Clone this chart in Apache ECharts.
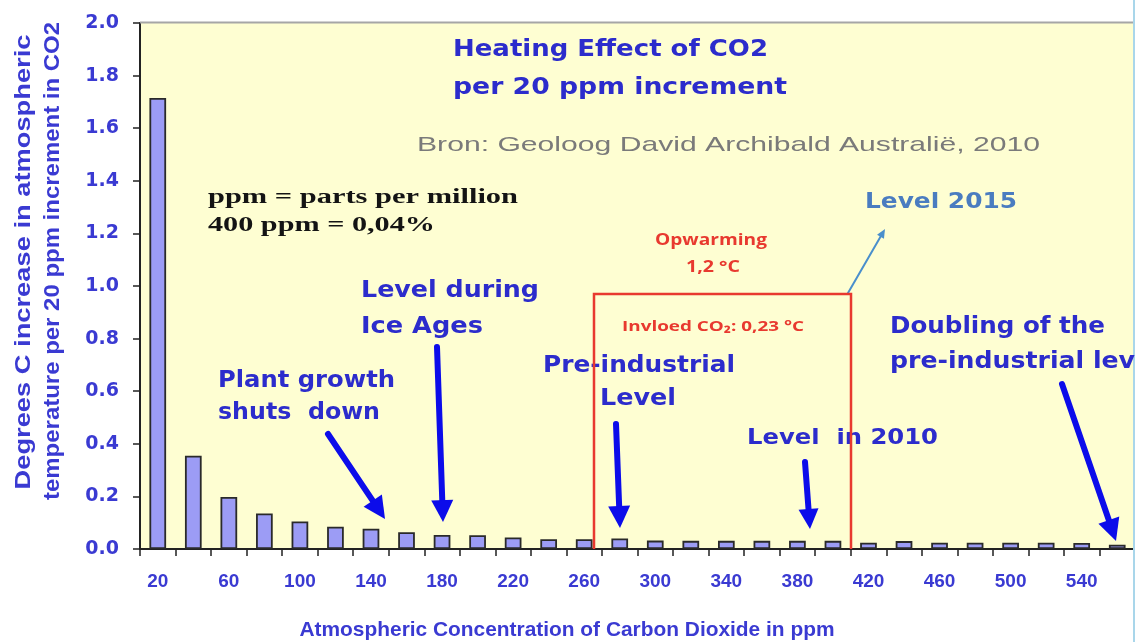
<!DOCTYPE html>
<html>
<head>
<meta charset="utf-8">
<script src="https://cdn.jsdelivr.net/npm/echarts@6/dist/echarts.min.js"></script>
<style>
html,body{margin:0;padding:0;background:#ffffff;}
#c{width:1135px;height:642px;}
</style>
</head>
<body>
<div id="c"></div>
<script>
// ---- data ----
const categories = ['20','40','60','80','100','120','140','160','180','200','220','240','260','280',
  '300','320','340','360','380','400','420','440','460','480','500','520','540','560'];
const heatingEffect = [1.715, 0.355, 0.198, 0.135, 0.105, 0.085, 0.077, 0.064, 0.053, 0.052, 0.044, 0.037, 0.037, 0.040,
  0.032, 0.031, 0.031, 0.031, 0.031, 0.031, 0.024, 0.030, 0.024, 0.024, 0.024, 0.024, 0.023, 0.016];
const yTickLabels = ['0.0','0.2','0.4','0.6','0.8','1.0','1.2','1.4','1.6','1.8','2.0'];

const chartTitle = ['Heating Effect of CO2', 'per 20 ppm increment'];
const sourceText = 'Bron: Geoloog David Archibald Australië, 2010';
const xAxisTitle = 'Atmospheric Concentration of Carbon Dioxide in ppm';
const yAxisTitle = ['Degrees C increase in atmospheric', 'temperature per 20 ppm increment in CO2'];

// ---- styling ----
const BLUE = '#2C2CCC';
const LABEL_BLUE = '#3A3AD2';
const ARROW_BLUE = '#0C0CEA';
const RED = '#E8392F';
const SANS = '"Liberation Sans", Arial, sans-serif';
const WIDE = '"DejaVu Sans", Verdana, sans-serif';
const SERIF = '"Liberation Serif", "Times New Roman", serif';
const CAL = '"Open Sans", "Noto Sans", sans-serif';

const chart = echarts.init(document.getElementById('c'), null, {renderer: 'canvas'});
const mctx = document.createElement('canvas').getContext('2d');

function txt(a) {
  const font = (a.weight || 'bold') + ' ' + a.size + 'px ' + (a.family || WIDE);
  mctx.font = font;
  const sx = a.w ? a.w / mctx.measureText(a.m || a.t).width : 1;
  return {
    type: 'text', x: a.x, y: a.y, rotation: a.rot || 0, scaleX: sx, z: 50,
    style: {
      text: a.t, font: font, fill: a.color || BLUE,
      textAlign: a.align || 'left', align: a.align || 'left',
      textVerticalAlign: 'middle', verticalAlign: 'middle'
    }
  };
}

function arrow(x1, y1, x2, y2, w, hl, hw, color) {
  const dx = x2 - x1, dy = y2 - y1, L = Math.hypot(dx, dy);
  const ux = dx / L, uy = dy / L;
  const bx = x2 - ux * hl, by = y2 - uy * hl;
  const px = -uy, py = ux;
  return [
    {type: 'line', z: 55, shape: {x1: x1, y1: y1, x2: bx + ux * 2, y2: by + uy * 2},
      style: {stroke: color, lineWidth: w, lineCap: 'round'}},
    {type: 'polygon', z: 55, shape: {points: [[x2, y2], [bx + px * hw / 2, by + py * hw / 2], [bx - px * hw / 2, by - py * hw / 2]]},
      style: {fill: color}}
  ];
}

const graphics = [
  // frame details of the plot area
  {type: 'line', z: 40, shape: {x1: 140, y1: 22.5, x2: 1133, y2: 22.5}, style: {stroke: '#A6A6A6', lineWidth: 2}},
  {type: 'rect', z: 40, shape: {x: 1133, y: 0, width: 2, height: 642}, style: {fill: '#A9D6EA'}},

  // titles
  txt({t: chartTitle[0], x: 453, y: 50, w: 315, size: 23}),
  txt({t: chartTitle[1], x: 453, y: 88, w: 334, size: 23}),
  txt({t: sourceText, x: 417, y: 145, w: 623, size: 21, weight: 'normal', family: SANS, color: '#7A7A7A'}),
  txt({t: 'ppm = parts per million', x: 208, y: 198, w: 310, size: 21, family: SERIF, color: '#141414'}),
  txt({t: '400 ppm = 0,04%', x: 208, y: 226, w: 227, size: 21, family: SERIF, color: '#141414'}),
  txt({t: 'Level 2015', x: 865, y: 203, w: 152, size: 21, color: '#4A7CC0'}),
  txt({t: 'Opwarming', x: 711, y: 240, w: 112, size: 16, family: CAL, color: RED, align: 'center'}),
  txt({t: '1,2 °C', x: 713, y: 267, w: 54, size: 16, family: CAL, color: RED, align: 'center'}),
  txt({t: 'Invloed CO₂: 0,23 °C', x: 622, y: 327, w: 182, size: 15, family: CAL, color: RED}),

  // blue annotations
  txt({t: 'Level during', x: 361, y: 291, w: 178, size: 23}),
  txt({t: 'Ice Ages', x: 361, y: 327, w: 122, size: 23}),
  txt({t: 'Plant growth', x: 218, y: 381, w: 177, size: 23}),
  txt({t: 'shuts  down', x: 218, y: 413, w: 162, size: 23}),
  txt({t: 'Pre-industrial', x: 543, y: 366, w: 192, size: 23}),
  txt({t: 'Level', x: 600, y: 399, w: 76, size: 23}),
  txt({t: 'Level  in 2010', x: 747, y: 438, w: 191, size: 22}),
  txt({t: 'Doubling of the', x: 890, y: 327, w: 215, size: 23}),
  txt({t: 'pre-industrial level', m: 'pre-industrial lev', x: 890, y: 362, w: 245, size: 23}),

  // axis titles
  txt({t: xAxisTitle, x: 567, y: 630, w: 535, size: 21, family: SANS, color: LABEL_BLUE, align: 'center'}),
  txt({t: yAxisTitle[0], x: 24, y: 262, w: 455, size: 22, family: SANS, color: LABEL_BLUE, align: 'center', rot: Math.PI / 2}),
  txt({t: yAxisTitle[1], x: 53, y: 261, w: 478, size: 22, family: SANS, color: LABEL_BLUE, align: 'center', rot: Math.PI / 2}),

  // red box
  {type: 'polyline', z: 60, shape: {points: [[594, 549], [594, 294], [851, 294], [851, 549]]},
    style: {stroke: RED, lineWidth: 2.5, fill: null}}
]
  .concat(arrow(848, 293, 885, 229, 2, 9, 8, '#4A8FCC'))
  .concat(arrow(328, 434, 385, 519, 6, 22, 22, ARROW_BLUE))
  .concat(arrow(437, 347, 443, 522, 6, 22, 22, ARROW_BLUE))
  .concat(arrow(616, 424, 620, 528, 6, 22, 22, ARROW_BLUE))
  .concat(arrow(805, 462, 810, 529, 6, 20, 20, ARROW_BLUE))
  .concat(arrow(1062, 384, 1116, 541, 6, 22, 22, ARROW_BLUE));

const option = {
  backgroundColor: '#ffffff',
  animation: false,
  grid: {
    show: true, left: 140, top: 23, right: -10, bottom: 93,
    backgroundColor: '#FEFED2', borderWidth: 0, containLabel: false
  },
  xAxis: {
    type: 'category',
    data: categories,
    boundaryGap: true,
    axisLine: {lineStyle: {color: '#222222', width: 2}},
    axisTick: {show: true, interval: 0, length: 7, lineStyle: {color: '#222222', width: 1.5}},
    axisLabel: {
      interval: 1, margin: 23, color: LABEL_BLUE,
      fontFamily: SANS, fontWeight: 'bold', fontSize: 19
    },
    splitLine: {show: false}
  },
  yAxis: {
    type: 'value', min: 0, max: 2, interval: 0.2,
    axisLine: {show: true, lineStyle: {color: '#222222', width: 2}},
    axisTick: {show: true, length: 7, lineStyle: {color: '#222222', width: 1.5}},
    axisLabel: {
      margin: 21, color: LABEL_BLUE, fontFamily: WIDE,
      fontWeight: 'bold', fontSize: 19,
      formatter: function (v) { return yTickLabels[Math.round(v / 0.2)]; }
    },
    splitLine: {show: false}
  },
  series: [{
    type: 'bar',
    data: heatingEffect,
    barWidth: '47%',
    itemStyle: {color: '#9C9CF5', borderColor: '#2A2A2A', borderWidth: 1.8}
  }],
  graphic: graphics
};
chart.setOption(option);
</script>
</body>
</html>
